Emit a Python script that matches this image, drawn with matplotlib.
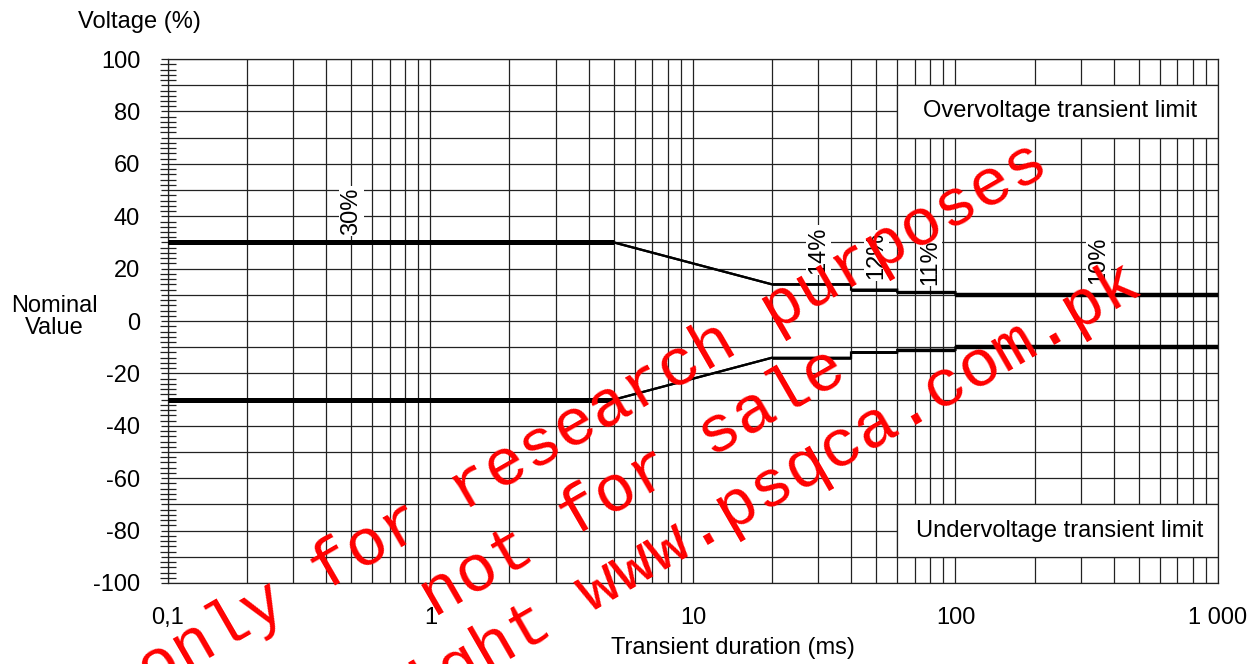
import matplotlib
matplotlib.use('Agg')
import matplotlib.pyplot as plt
from matplotlib.patches import Rectangle
from matplotlib.ticker import LogLocator, MultipleLocator, FuncFormatter, FixedLocator, NullFormatter

plt.rcParams['font.family'] = ['Liberation Sans', 'DejaVu Sans']

# envelope of the transient limits (duration in ms, level in %)
seg_start = [0.1, 5, 20, 40, 60, 100]
seg_end = [5, 20, 40, 60, 100, 1000]
seg_from = [30, 30, 14, 12, 11, 10]
seg_to = [30, 14, 14, 12, 11, 10]

pct_labels = ['30%', '14%', '12%', '11%', '10%']
pct_x = [0.5, 30, 50, 80, 350]
pct_y = [42, 27, 25, 22.5, 23]

x_ticks = [0.1, 1, 10, 100, 1000]
x_ticklabels = ['0,1', '1', '10', '100', '1 000']

fs = 17

fig = plt.figure(figsize=(12.58, 6.64), dpi=100)
ax = fig.add_axes([0.1335, 0.122, 0.8347, 0.789])

ax.set_xscale('log')
ax.set_xlim(0.1, 1000)
ax.set_ylim(-100, 100)

gcol = '#222222'
ax.set_axisbelow(True)
ax.xaxis.set_major_locator(FixedLocator(x_ticks))
ax.xaxis.set_minor_locator(LogLocator(base=10, subs=range(2, 10)))
ax.xaxis.set_minor_formatter(NullFormatter())
ax.set_xticklabels(x_ticklabels)
ax.grid(True, which='both', axis='x', color=gcol, lw=0.9)
ax.tick_params(axis='x', which='both', length=0, labelsize=fs, pad=17)

ax.yaxis.set_major_locator(MultipleLocator(10))
ax.yaxis.set_minor_locator(MultipleLocator(2))
ax.yaxis.set_major_formatter(FuncFormatter(lambda v, p: f'{int(v)}' if int(v) % 20 == 0 else ''))
ax.grid(True, which='major', axis='y', color=gcol, lw=0.9)
ax.tick_params(axis='y', which='major', direction='out', length=5, width=0.9, color=gcol,
               labelsize=fs, pad=15)
ax.tick_params(axis='y', which='minor', direction='inout', length=11, width=0.9, color=gcol)

for s in ax.spines.values():
    s.set_color(gcol)
    s.set_linewidth(0.9)

# limit boxes
for y0, txt in [(70, 'Overvoltage transient limit'), (-90, 'Undervoltage transient limit')]:
    ax.add_patch(Rectangle((60, y0), 940, 20, facecolor='white', edgecolor=gcol, lw=0.9, zorder=2))
    ax.text(250, y0 + 10, txt, ha='center', va='center', fontsize=fs, zorder=3)

# limit lines
widths = [3.6, 1.6, 1.9, 2.1, 2.4, 3.2]
px, py = [], []
for a, b, f, t in zip(seg_start, seg_end, seg_from, seg_to):
    px += [a, b]
    py += [f, t]
ax.plot(px, py, color='black', lw=1.6, zorder=4, solid_joinstyle='miter')
ax.plot(px, [-v for v in py], color='black', lw=1.6, zorder=4, solid_joinstyle='miter')
for a, b, f, t, w in zip(seg_start, seg_end, seg_from, seg_to, widths):
    ax.plot([a, b], [f, t], color='black', lw=w, zorder=4, solid_capstyle='butt')
    ax.plot([a, b], [-f, -t], color='black', lw=w, zorder=4, solid_capstyle='butt')

for lab, x, y in zip(pct_labels, pct_x, pct_y):
    ax.text(x, y, lab, rotation=90, ha='center', va='center', fontsize=fs, zorder=3,
            bbox=dict(facecolor='white', edgecolor='none', pad=1))

fig.text(0.111, 0.967, 'Voltage (%)', ha='center', va='center', fontsize=fs)
fig.text(0.043, 0.523, 'Nominal\nValue', ha='center', va='center', fontsize=fs,
         multialignment='center', linespacing=1.0)
fig.text(0.583, 0.024, 'Transient duration (ms)', ha='center', va='center', fontsize=fs)

# watermark
wm = ['only for research purposes', 'not for sale', 'copyright www.psqca.com.pk']
wm_pos = [(0.478, 0.350), (0.510, 0.250), (0.552, 0.168)]
for s, (x, y) in zip(wm, wm_pos):
    fig.text(x, y, s, rotation=30, rotation_mode='anchor', ha='center', va='baseline',
             fontsize=48, color='red', family='Liberation Mono')

fig.savefig('out.png', dpi=100)
